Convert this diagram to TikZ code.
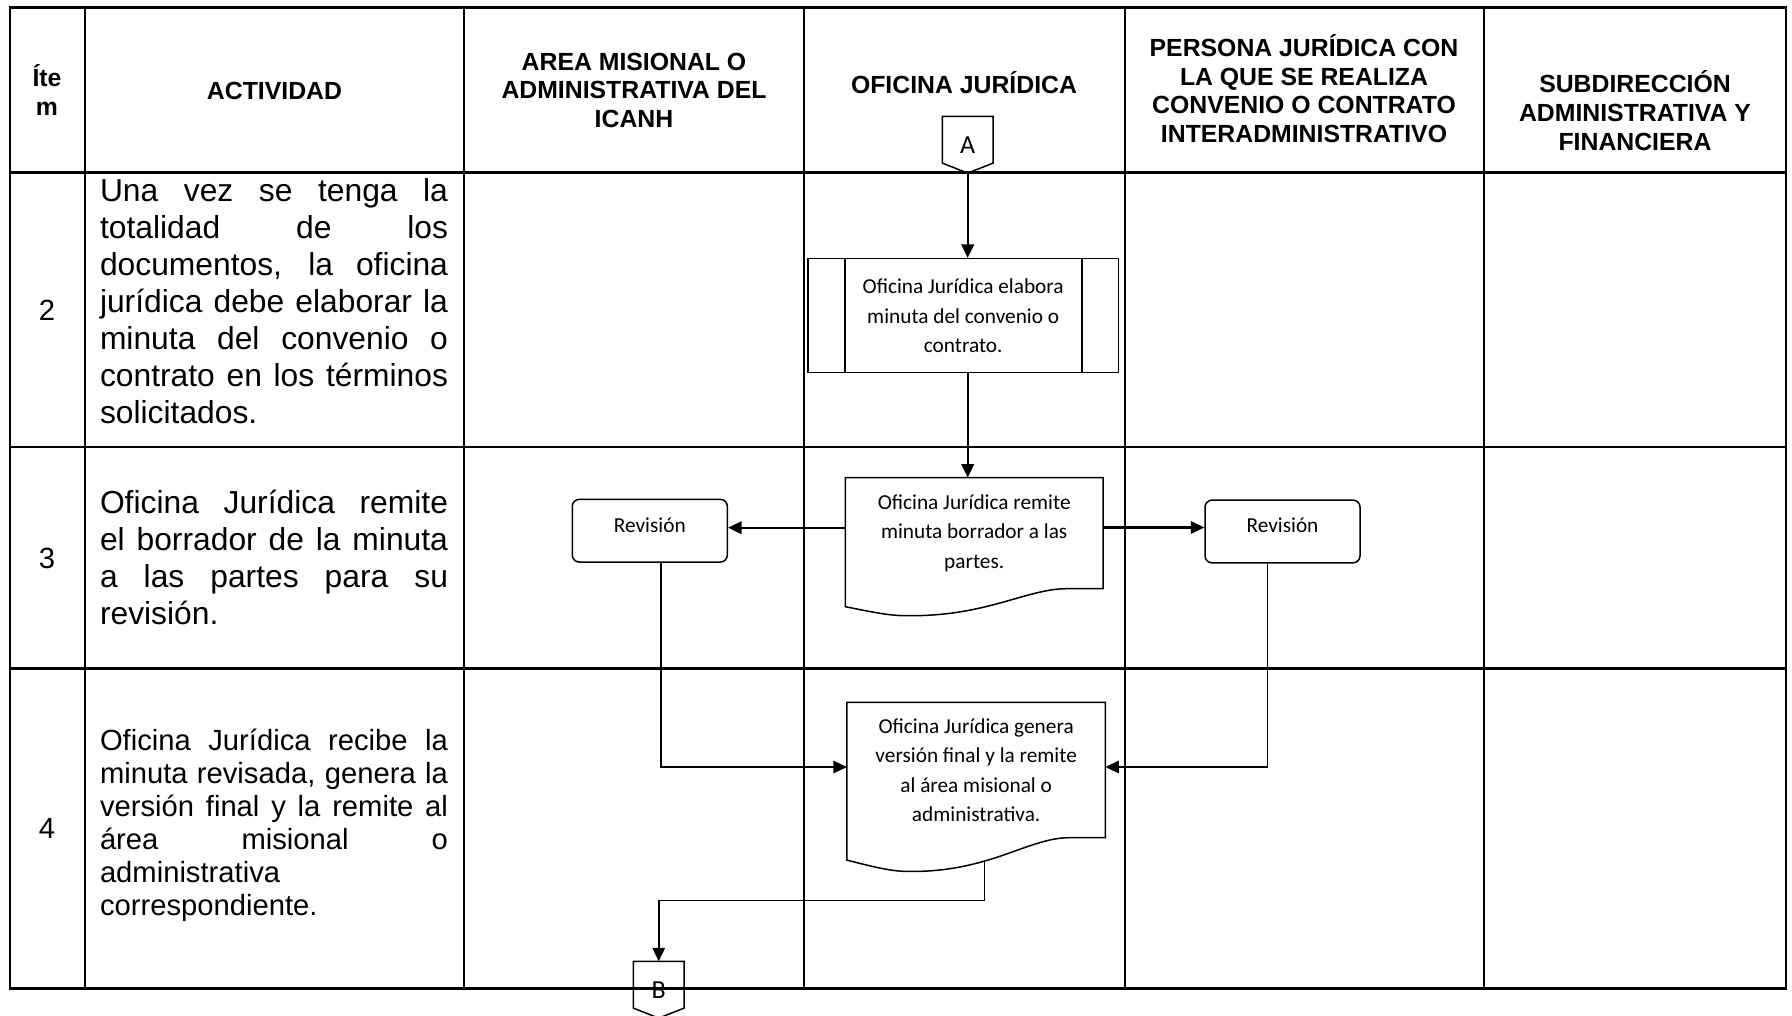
\documentclass[tikz,border=0pt]{standalone}
\usepackage{fontspec}
\setmainfont{Liberation Sans}
\newfontfamily\calibri{Carlito}
\usetikzlibrary{arrows.meta,calc}
\setlength{\parindent}{0pt}

\tikzset{
	grid/.style={line width=1.3pt},
	head/.style={font=\fontsize{12.4}{14.3}\selectfont\bfseries, align=center, inner sep=0pt},
	activity/.style={text width=174pt, align=justify, inner sep=0pt, font=\fontsize{15.9}{18.5}\selectfont},
	itemno/.style={font=\fontsize{14.6}{17}\selectfont, inner sep=0pt},
	shapeline/.style={line width=0.75pt},
	proc/.style={draw, shapeline, minimum width=155.15pt, minimum height=57pt, inner sep=0pt, align=center, font=\calibri\fontsize{10.65}{14.75}\selectfont},
	doc/.style={minimum width=128.5pt, inner sep=0pt, align=center, font=\calibri\fontsize{10.65}{14.75}\selectfont},
	rev/.style={draw, shapeline, rounded corners=3.5pt, minimum width=77.5pt, minimum height=31.35pt, inner sep=0pt, text height=7pt, text depth=5.7pt, font=\calibri\fontsize{10.65}{13}\selectfont},
	offpage/.style={minimum width=25pt, minimum height=28pt, inner sep=0pt, font=\calibri\fontsize{13}{15}\selectfont},
	flow/.style={line width=1.1pt, -{Triangle[length=6.75pt,width=6.25pt]}},
	flowthin/.style={line width=0.85pt, -{Triangle[length=6.75pt,width=6.25pt]}}
}

% document shape: #1 node, #2 depth of the wave
\newcommand{\docoutline}[2]{
	\draw[shapeline] (#1.south east) -- (#1.north east) -- (#1.north west)
		-- ($(#1.south west)+(0,0.665*#2)$)
		.. controls ($(#1.south west)!0.1!(#1.south east)+(0,0.86*#2)$) and ($(#1.south west)!0.17!(#1.south east)+(0,#2)$) .. ($(#1.south west)!0.235!(#1.south east)+(0,#2)$)
		.. controls ($(#1.south west)!0.55!(#1.south east)+(0,1.04*#2)$) and ($(#1.south west)!0.7!(#1.south east)$) .. ($(#1.south west)!0.86!(#1.south east)$) coordinate[pos=0.38] (#1out)
		-- cycle;
}

% off-page connector outline
\newcommand{\offpageoutline}[1]{
	\draw[shapeline] (#1.north west) -- (#1.north east) -- ($(#1.south east)+(0,-10)$)
		-- (#1.south) -- ($(#1.south west)+(0,-10)$) -- cycle;
}

\begin{document}
\begin{tikzpicture}[x=0.5pt,y=-0.5pt]
	\useasboundingbox (0,0) rectangle (1792,1016);

	%table grid
	\draw[grid] (10,7.3) rectangle (1786,988.5);
	\foreach \x in {85,464,804,1125,1484}
		\draw[grid] (\x,7.3) -- (\x,988.5);
	\foreach \y in {172.7,447,668.5}
		\draw[grid] (10,\y) -- (1786,\y);

	%column headers
	\node[head] (hitem) at (47,90) {Íte\\m};
	\node[head, anchor=base] (hact) at (274.5,100) {ACTIVIDAD};
	\node[head] (harea) at (634,90.4) {AREA MISIONAL O\\ADMINISTRATIVA DEL\\ICANH};
	\node[head, anchor=base] (hofi) at (964,93.3) {OFICINA JURÍDICA};
	\node[head] (hpers) at (1304,88.8) {PERSONA JURÍDICA CON\\LA QUE SE REALIZA\\CONVENIO O CONTRATO\\INTERADMINISTRATIVO};
	\node[head] (hsub) at (1635,110.6) {SUBDIRECCIÓN\\ADMINISTRATIVA Y\\FINANCIERA};

	%items and activities
	\node[itemno] (n2) at (47,310) {2};
	\node[itemno] (n3) at (47,558) {3};
	\node[itemno] (n4) at (47,828.5) {4};
	\node[activity] (act2) at (274,301.4) {Una vez se tenga la\linebreak totalidad de los\linebreak documentos, la oficina\linebreak jurídica debe elaborar la\linebreak minuta del convenio o\linebreak contrato en los términos\linebreak solicitados.};
	\node[activity] (act3) at (274,557.4) {Oficina Jurídica remite\linebreak el borrador de la minuta\linebreak a las partes para su\linebreak revisión.};
	\node[activity, font=\fontsize{14.6}{16.5}\selectfont] (act4) at (274,824.9) {Oficina Jurídica recibe la\linebreak minuta revisada, genera la\linebreak versión final y la remite al\linebreak área misional o\linebreak administrativa\newline correspondiente.};

	%flow shapes
	\node[offpage] (conA) at (967.7,144.7) {A};
	\offpageoutline{conA}
	\node[proc] (elab) at (963.2,315.7) {Oficina Jurídica elabora\\minuta del convenio o\\contrato.};
	\draw[shapeline] ($(elab.north west)+(37.7,0)$) -- ($(elab.south west)+(37.7,0)$);
	\draw[shapeline] ($(elab.north east)+(-37.3,0)$) -- ($(elab.south east)+(-37.3,0)$);
	\node[doc, minimum height=55.15pt] (remite) at (974.2,533.15) {Oficina Jurídica remite\\minuta borrador a las\\partes.};
	\docoutline{remite}{27}
	\node[rev] (revarea) at (649.8,530.7) {Revisión};
	\node[rev] (revpers) at (1282.5,531.5) {Revisión};
	\node[doc, minimum width=128.85pt, minimum height=67.3pt] (genera) at (976.15,770) {Oficina Jurídica genera\\versión final y la remite\\al área misional o\\administrativa.};
	\docoutline{genera}{33.7}
	\node[offpage] (conB) at (658.7,989.7) {B};
	\offpageoutline{conB}

	%connectors
	\coordinate (arrL) at ([yshift=1.5pt]revarea.east);
	\coordinate (arrR) at ([yshift=2pt]revpers.west);
	\draw[flow] (conA.south) -- (conA.south |- elab.north);
	\draw[flow] (elab.south -| conA.south) -- (remite.north -| conA.south);
	\draw[flow] (remite.west |- arrL) -- (arrL);
	\draw[flow] (remite.east |- arrR) -- (arrR);
	\draw[flowthin] ([xshift=5.45pt]revarea.south) |- ([yshift=1.5pt]genera.west);
	\draw[flowthin] ([xshift=-7.5pt]revpers.south) |- ([yshift=1.5pt]genera.east);
	\draw[flowthin] (generaout) -- ++(0,39.3) -| (conB.north);
\end{tikzpicture}
\end{document}
